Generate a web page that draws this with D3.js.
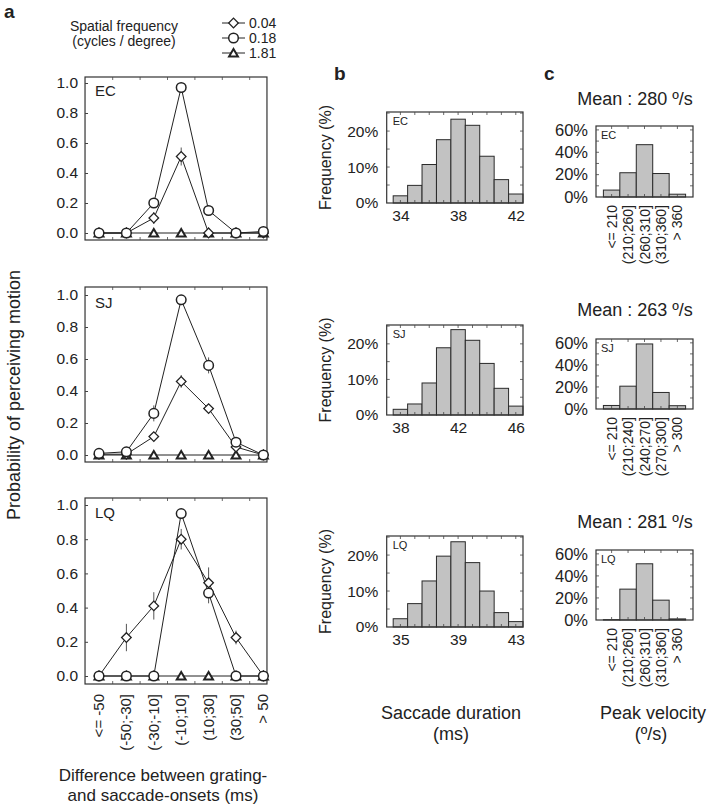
<!DOCTYPE html>
<html>
<head>
<meta charset="utf-8">
<script src="https://cdn.jsdelivr.net/npm/d3@7"></script>
<style>
  body { margin: 0; background: #fff; }
  svg { font-family: "Liberation Sans", Arial, sans-serif; }
</style>
</head>
<body>
<script>
// ---- data ----
var onsetBins = ["<= -50", "(-50;-30]", "(-30;-10]", "(-10;10]", "(10;30]", "(30;50]", "> 50"];
var freqs = ["0.04", "0.18", "1.81"];
var subjects = ["EC", "SJ", "LQ"];

// probability of perceiving motion (panel a), per subject and spatial frequency
var ecLow = [0, 0, 0.10, 0.51, 0, 0, 0];
var ecMid = [0, 0, 0.20, 0.97, 0.15, 0, 0.01];
var ecHigh = [0, 0, 0, 0, 0, 0, 0];
var ecLowErr = [0, 0, 0.04, 0.06, 0, 0, 0];
var ecMidErr = [0, 0, 0.03, 0.02, 0.02, 0, 0];

var sjLow = [0.005, 0.005, 0.115, 0.46, 0.29, 0.05, 0];
var sjMid = [0.01, 0.02, 0.26, 0.97, 0.56, 0.08, 0];
var sjHigh = [0, 0, 0, 0, 0, 0, 0];
var sjLowErr = [0, 0, 0.02, 0.04, 0.02, 0.01, 0];
var sjMidErr = [0, 0.01, 0.05, 0.01, 0.05, 0.02, 0];

var lqLow = [0, 0.225, 0.41, 0.80, 0.545, 0.225, 0];
var lqMid = [0, 0, 0, 0.95, 0.485, 0, 0];
var lqHigh = [0, 0, 0, 0, 0, 0, 0];
var lqLowErr = [0, 0.08, 0.08, 0.06, 0.09, 0.04, 0];
var lqMidErr = [0, 0, 0, 0.02, 0.06, 0, 0];

// saccade duration histograms (panel b), % per 1 ms bin
var durStart = [34, 38, 35];
var durEC = [2, 4.9, 10.7, 17.6, 23.3, 21.6, 13, 6.5, 2.5];
var durSJ = [1.6, 3.1, 9, 18.9, 24, 21, 14.5, 7.5, 2.5];
var durLQ = [2.3, 6.5, 12.8, 19.7, 23.7, 17.9, 10, 4, 1.5];

// peak velocity histograms (panel c)
var velBinsEC = ["<= 210", "(210;260]", "(260;310]", "(310;360]", "> 360"];
var velBinsSJ = ["<= 210", "(210;240]", "(240;270]", "(270;300]", "> 300"];
var velBinsLQ = ["<= 210", "(210;260]", "(260;310]", "(310;360]", "> 360"];
var velEC = [6.2, 21.7, 46.8, 21, 2.5];
var velSJ = [3.2, 20.7, 59, 15, 3];
var velLQ = [0.3, 28, 51, 18, 1];
var velMean = [280, 263, 281];

// ---- drawing ----
var svg = d3.select("body").append("svg")
  .attr("width", 711)
  .attr("height", 812);

var ink = "#222";

function frame(g, x0, x1, y0, y1) {
  g.append("rect")
    .attr("x", x0).attr("y", y0)
    .attr("width", x1 - x0).attr("height", y1 - y0)
    .attr("fill", "none").attr("stroke", "#333").attr("stroke-width", 1.2);
}

// inward ticks on all four sides
function inTicks(g, xs, ys, x0, x1, y0, y1, len) {
  var p = d3.path();
  xs.forEach(function(x) {
    p.moveTo(x, y0); p.lineTo(x, y0 + len);
    p.moveTo(x, y1); p.lineTo(x, y1 - len);
  });
  ys.forEach(function(y) {
    p.moveTo(x0, y); p.lineTo(x0 + len, y);
    p.moveTo(x1, y); p.lineTo(x1 - len, y);
  });
  g.append("path").attr("d", p.toString()).attr("stroke", "#444").attr("stroke-width", 0.8).attr("fill", "none");
}

function label(x, y, txt, size, anchor, weight) {
  return svg.append("text")
    .attr("x", x).attr("y", y)
    .attr("font-size", size)
    .attr("text-anchor", anchor || "start")
    .attr("font-weight", weight || "normal")
    .attr("fill", ink)
    .text(txt);
}

// panel letters
label(4, 18, "a", 19, "start", "bold");
label(334, 80, "b", 19, "start", "bold");
label(544, 80, "c", 19, "start", "bold");

// ---------------- panel a ----------------
var aX = d3.scaleLinear().domain([0, 6]).range([99, 263.4]);
var aLeft = aX(-0.51), aRight = aX(6.13);

var aPanels = [
  {name: "EC", top: 77, y1: 83, y0: 233, bottom: 240, series: [ecLow, ecMid, ecHigh], errs: [ecLowErr, ecMidErr, null]},
  {name: "SJ", top: 287, y1: 295, y0: 455, bottom: 462, series: [sjLow, sjMid, sjHigh], errs: [sjLowErr, sjMidErr, null]},
  {name: "LQ", top: 498, y1: 505, y0: 676, bottom: 684, series: [lqLow, lqMid, lqHigh], errs: [lqLowErr, lqMidErr, null]}
];

var diamond = d3.symbol().type(d3.symbolSquare).size(46);
var triangle = d3.symbol().type(d3.symbolTriangle).size(34);

function drawMarker(g, kind, x, y) {
  if (kind === 0) {
    g.append("path").attr("d", diamond())
      .attr("transform", "translate(" + x + "," + y + ") rotate(45)")
      .attr("fill", "#fff").attr("stroke", ink).attr("stroke-width", 1.3);
  } else if (kind === 1) {
    g.append("circle").attr("cx", x).attr("cy", y).attr("r", 4.8)
      .attr("fill", "#fff").attr("stroke", ink).attr("stroke-width", 1.5);
  } else {
    g.append("path").attr("d", triangle())
      .attr("transform", "translate(" + x + "," + (y + 1) + ")")
      .attr("fill", "#fff").attr("stroke", ink).attr("stroke-width", 2);
  }
}

aPanels.forEach(function(p, pi) {
  var y = d3.scaleLinear().domain([0, 1]).range([p.y0, p.y1]);
  var g = svg.append("g");

  frame(g, aLeft, aRight, p.top, p.bottom);
  inTicks(g, d3.range(6).map(function(i) { return aX(i + 0.5); }),
    [], aLeft, aRight, p.top, p.bottom, 3);

  var leftAxis = d3.axisLeft(y)
    .tickValues([0, 0.2, 0.4, 0.6, 0.8, 1.0])
    .tickFormat(d3.format(".1f"))
    .tickSizeInner(-3).tickSizeOuter(0).tickPadding(7);
  var ax = g.append("g").attr("transform", "translate(" + aLeft + ",0)").call(leftAxis);
  ax.select(".domain").remove();
  ax.selectAll("line").attr("stroke", "#444");
  ax.selectAll("text").attr("font-size", 15.5).attr("fill", ink)
    .attr("font-family", "Liberation Sans, Arial, sans-serif");

  label(aLeft + 10, p.y1 + 12.5, p.name, 15);

  var line = d3.line().x(function(d, i) { return aX(i); }).y(function(d) { return y(d); });
  [2, 0, 1].forEach(function(k) {
    g.append("path").datum(p.series[k]).attr("d", line)
      .attr("fill", "none").attr("stroke", ink).attr("stroke-width", 1);
  });

  // error bars
  [0, 1].forEach(function(k) {
    p.errs[k].forEach(function(e, i) {
      if (e > 0) {
        g.append("line")
          .attr("x1", aX(i)).attr("x2", aX(i))
          .attr("y1", y(p.series[k][i] - e)).attr("y2", y(p.series[k][i] + e))
          .attr("stroke", "#555").attr("stroke-width", 1);
      }
    });
  });

  [2, 0, 1].forEach(function(k) {
    p.series[k].forEach(function(d, i) { drawMarker(g, k, aX(i), y(d)); });
  });

  // category labels under the last panel
  if (pi === 2) {
    onsetBins.forEach(function(b, i) {
      g.append("text")
        .attr("transform", "translate(" + (aX(i) + 5) + "," + (p.bottom + 10) + ") rotate(-90)")
        .attr("text-anchor", "end")
        .attr("font-size", 15).attr("fill", ink)
        .text(b);
    });
  }
});

// legend
var legY = [23, 38, 53];
freqs.forEach(function(f, k) {
  svg.append("line").attr("x1", 222).attr("x2", 245).attr("y1", legY[k]).attr("y2", legY[k])
    .attr("stroke", ink).attr("stroke-width", 1);
  drawMarker(svg, k, 233.5, legY[k]);
  label(249, legY[k] + 5, f, 14);
});
label(124, 31, "Spatial frequency", 14, "middle");
label(124, 46, "(cycles / degree)", 14, "middle");

svg.append("text")
  .attr("transform", "translate(20,395) rotate(-90)")
  .attr("text-anchor", "middle").attr("font-size", 18).attr("fill", ink)
  .text("Probability of perceiving motion");

label(163, 781, "Difference between grating-", 17, "middle");
label(163, 801, "and saccade-onsets (ms)", 17, "middle");

// ---------------- panel b ----------------
var bPanels = [
  {name: "EC", top: 112, bottom: 203, vals: durEC, start: durStart[0]},
  {name: "SJ", top: 325, bottom: 415, vals: durSJ, start: durStart[1]},
  {name: "LQ", top: 536, bottom: 627, vals: durLQ, start: durStart[2]}
];
var bLeft = 386.7, bRight = 523;

bPanels.forEach(function(p) {
  var g = svg.append("g");
  var x = d3.scaleLinear().domain([p.start - 0.95, p.start + 8.5]).range([bLeft, bRight]);
  var y = d3.scaleLinear().domain([0, 25.3]).range([p.bottom, p.top]);

  g.selectAll("rect.bar").data(p.vals).enter().append("rect")
    .attr("class", "bar")
    .attr("x", function(d, i) { return x(p.start + i - 0.5); })
    .attr("width", function(d, i) { return x(p.start + i + 0.5) - x(p.start + i - 0.5); })
    .attr("y", function(d) { return y(d); })
    .attr("height", function(d) { return y(0) - y(d); })
    .attr("fill", "#c2c2c2").attr("stroke", "#2a2a2a").attr("stroke-width", 1);

  frame(g, bLeft, bRight, p.top, p.bottom);
  inTicks(g, d3.range(9).map(function(i) { return x(p.start + i); }),
    [5, 10, 15, 20, 25].map(function(v) { return y(v); }), bLeft, bRight, p.top, p.bottom, 3);

  var leftAxis = d3.axisLeft(y).tickValues([0, 10, 20])
    .tickFormat(function(d) { return d + "%"; })
    .tickSize(0).tickPadding(8.5);
  var ax = g.append("g").attr("transform", "translate(" + bLeft + ",0)").call(leftAxis);
  ax.select(".domain").remove();
  ax.selectAll("text").attr("font-size", 15.5).attr("fill", ink)
    .attr("font-family", "Liberation Sans, Arial, sans-serif");

  var bottomAxis = d3.axisBottom(x).tickValues([p.start, p.start + 4, p.start + 8])
    .tickFormat(d3.format("d")).tickSize(0).tickPadding(7);
  var bx = g.append("g").attr("transform", "translate(0," + p.bottom + ")").call(bottomAxis);
  bx.select(".domain").remove();
  bx.selectAll("text").attr("font-size", 15.5).attr("fill", ink)
    .attr("font-family", "Liberation Sans, Arial, sans-serif");

  label(bLeft + 6, p.top + 13, p.name, 11);

  svg.append("text")
    .attr("transform", "translate(325," + ((p.top + p.bottom) / 2) + ") rotate(-90)")
    .attr("text-anchor", "middle").attr("dy", "0.35em")
    .attr("font-size", 16).attr("fill", ink)
    .text("Frequency (%)");
});

label(451, 719, "Saccade duration", 18, "middle");
label(451, 740, "(ms)", 18, "middle");

// ---------------- panel c ----------------
var cPanels = [
  {name: "EC", top: 126, bottom: 197, vals: velEC, bins: velBinsEC, mean: velMean[0], titleY: 105},
  {name: "SJ", top: 339, bottom: 409, vals: velSJ, bins: velBinsSJ, mean: velMean[1], titleY: 316},
  {name: "LQ", top: 550, bottom: 620, vals: velLQ, bins: velBinsLQ, mean: velMean[2], titleY: 528}
];
var cLeft = 596, cRight = 693;
var cX = d3.scaleLinear().domain([-0.95, 4.95]).range([cLeft, cRight]);

cPanels.forEach(function(p) {
  var g = svg.append("g");
  var y = d3.scaleLinear().domain([0, 63.5]).range([p.bottom, p.top]);

  g.selectAll("rect.bar").data(p.vals).enter().append("rect")
    .attr("class", "bar")
    .attr("x", function(d, i) { return cX(i - 0.5); })
    .attr("width", cX(0.5) - cX(-0.5))
    .attr("y", function(d) { return y(d); })
    .attr("height", function(d) { return y(0) - y(d); })
    .attr("fill", "#c2c2c2").attr("stroke", "#2a2a2a").attr("stroke-width", 1);

  frame(g, cLeft, cRight, p.top, p.bottom);
  inTicks(g, d3.range(5).map(function(i) { return cX(i); }),
    [10, 20, 30, 40, 50, 60].map(function(v) { return y(v); }), cLeft, cRight, p.top, p.bottom, 3);

  var leftAxis = d3.axisLeft(y).tickValues([0, 20, 40, 60])
    .tickFormat(function(d) { return d + "%"; })
    .tickSize(0).tickPadding(8);
  var ax = g.append("g").attr("transform", "translate(" + cLeft + ",0)").call(leftAxis);
  ax.select(".domain").remove();
  ax.selectAll("text").attr("font-size", 16.5).attr("fill", ink)
    .attr("font-family", "Liberation Sans, Arial, sans-serif");

  p.bins.forEach(function(b, i) {
    g.append("text")
      .attr("transform", "translate(" + (cX(i) + 5) + "," + (p.bottom + 8) + ") rotate(-90)")
      .attr("text-anchor", "end")
      .attr("font-size", 14).attr("fill", ink)
      .text(b);
  });

  label(cLeft + 5, p.top + 13, p.name, 11);
  label(635, p.titleY, "Mean : " + p.mean + " \u00BA/s", 18, "middle");
});

label(653, 719, "Peak velocity", 18, "middle");
label(651, 740, "(\u00BA/s)", 18, "middle");
</script>
</body>
</html>
